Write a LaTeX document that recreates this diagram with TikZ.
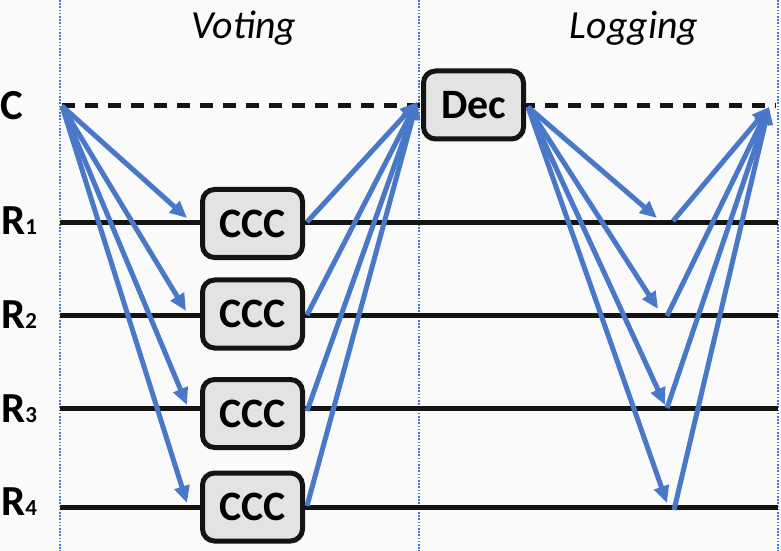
\documentclass[tikz,border=0pt]{standalone}
\usepackage{fontspec}
\setmainfont{Carlito}
\usetikzlibrary{arrows.meta}
\definecolor{arrowblue}{HTML}{4A78C8}
\definecolor{boxgrey}{HTML}{E3E3E3}
\definecolor{bgcol}{HTML}{FAFAFA}
\begin{document}
\begin{tikzpicture}[x=1bp,y=-1bp,
  msg/.style={draw=arrowblue,line width=5bp,-{Triangle[length=17bp,width=15bp]}},
  ret/.style={draw=arrowblue,line width=5bp,-{Triangle[length=17bp,width=15bp]}},
  tl/.style={line width=5bp,black!92},
  sep/.style={draw=arrowblue,line width=1.8bp,dash pattern=on 1.6bp off 1.6bp},
  procbox/.style={draw=black!92,line width=5bp,fill=boxgrey,rounded corners=12bp,
    minimum width=100bp,minimum height=68bp,inner sep=0pt,font=\fontsize{42}{46}\selectfont\bfseries},
  rowlab/.style={anchor=west,inner sep=0pt,font=\fontsize{43}{46}\selectfont\bfseries},
  phase/.style={inner sep=0pt,font=\fontsize{40}{44}\selectfont\itshape}]
\fill[bgcol] (0,0) rectangle (781,551);
\useasboundingbox (0,0) rectangle (781,551);
% separators
\coordinate (s1t) at (60,0); \coordinate (s1b) at (60,551);
\coordinate (s2t) at (419,0); \coordinate (s2b) at (419,551);
\coordinate (s3t) at (778,0); \coordinate (s3b) at (778,551);
\draw[sep] (s1t) -- (s1b);
\draw[sep] (s2t) -- (s2b);
\draw[sep] (s3t) -- (s3b);
% phase titles
\node[phase] (voting) at (244,28) {Voting};
\node[phase] (logging) at (634,28) {Logging};
% row labels
\node[rowlab] (lc) at (0,106) {C};
\node[rowlab] (l1) at (1,221) {R\fontsize{23}{24}\selectfont 1};
\node[rowlab] (l2) at (1,315) {R\fontsize{23}{24}\selectfont 2};
\node[rowlab] (l3) at (1,409) {R\fontsize{23}{24}\selectfont 3};
\node[rowlab] (l4) at (1,502) {R\fontsize{23}{24}\selectfont 4};
% timelines
\coordinate (cs) at (62,106); \coordinate (ce) at (776,106);
\coordinate (r1s) at (60,223); \coordinate (r1e) at (778,223);
\coordinate (r2s) at (60,315); \coordinate (r2e) at (778,315);
\coordinate (r3s) at (60,408); \coordinate (r3e) at (778,408);
\coordinate (r4s) at (60,507); \coordinate (r4e) at (778,507);
\draw[tl,dash pattern=on 13bp off 10bp] (cs) -- (ce);
\draw[tl] (r1s) -- (r1e);
\draw[tl] (r2s) -- (r2e);
\draw[tl] (r3s) -- (r3e);
\draw[tl] (r4s) -- (r4e);
% boxes
\node[procbox] (ccc1) at (252.5,223.5) {CCC};
\node[procbox] (ccc2) at (252.5,314) {CCC};
\node[procbox] (ccc3) at (252.5,413.5) {CCC};
\node[procbox] (ccc4) at (252.5,507) {CCC};
\node[procbox] (dec) at (473.5,105) {Dec};
% voting arrows
\coordinate (v1) at (187,218); \coordinate (v2) at (186,311);
\coordinate (v3) at (187,405); \coordinate (v4) at (187,503);
\draw[msg] (cs) -- (v1);
\draw[msg] (cs) -- (v2);
\draw[msg] (cs) -- (v3);
\draw[msg] (cs) -- (v4);
\coordinate (w1) at (307,222); \coordinate (w2) at (307,315);
\coordinate (w3) at (307,411); \coordinate (w4) at (307,506);
\coordinate (din) at (417,102);
\draw[ret] (w1) -- (din);
\draw[ret] (w2) -- (din);
\draw[ret] (w3) -- (din);
\draw[ret] (w4) -- (din);
% logging arrows
\coordinate (dout) at (528,107);
\coordinate (g1) at (657,218); \coordinate (g2) at (658,309);
\coordinate (g3) at (665,405); \coordinate (g4) at (667,503);
\draw[msg] (dout) -- (g1);
\draw[msg] (dout) -- (g2);
\draw[msg] (dout) -- (g3);
\draw[msg] (dout) -- (g4);
\coordinate (h1) at (673,221); \coordinate (h2) at (667,316);
\coordinate (h3) at (667,408); \coordinate (h4) at (674,510);
\coordinate (fin) at (769,107);
\draw[ret] (h1) -- (fin);
\draw[ret] (h2) -- (fin);
\draw[ret] (h3) -- (fin);
\draw[ret] (h4) -- (fin);
\end{tikzpicture}
\end{document}
